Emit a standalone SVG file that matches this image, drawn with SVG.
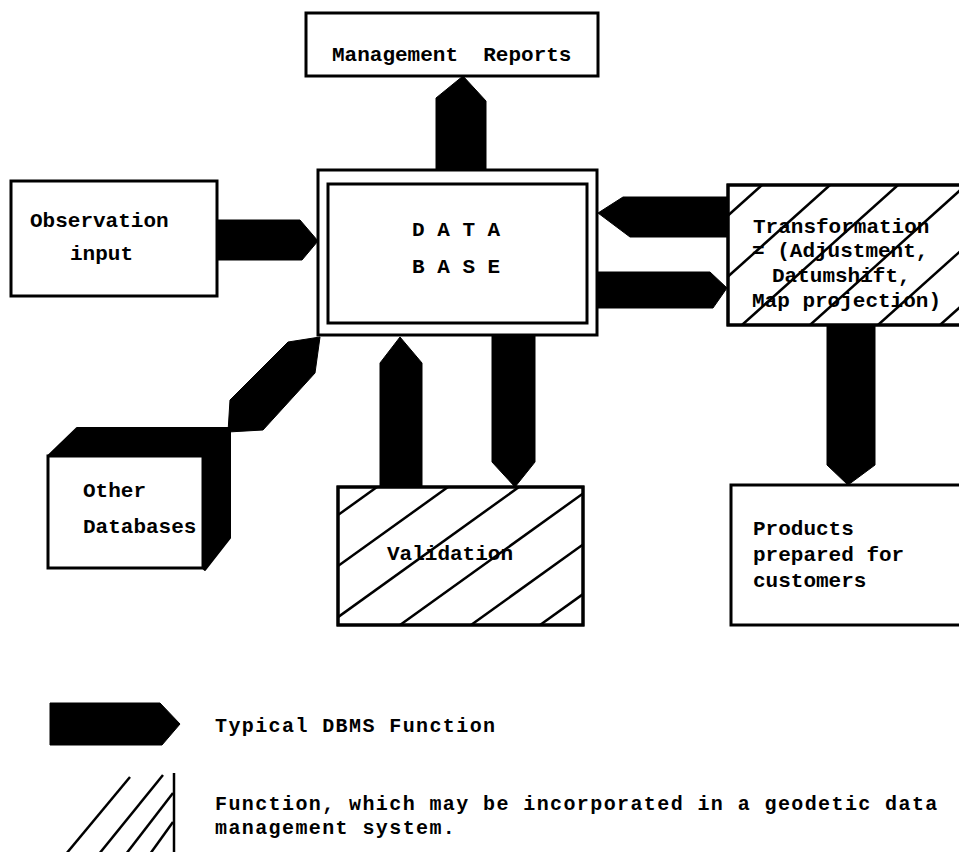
<svg xmlns="http://www.w3.org/2000/svg" width="959" height="852" viewBox="0 0 959 852">
<style>
.box{fill:#fff;stroke:#000;stroke-width:3}
.arrow{fill:#000;stroke:#000;stroke-width:1;stroke-linejoin:round}
.hatch{stroke:#000;stroke-width:2.5;fill:none}
.t{font-family:"Liberation Mono","Courier New",monospace;font-size:21px;font-weight:bold;fill:#000}
.lg{font-size:20px;letter-spacing:1.4px}
</style>
<defs>
<clipPath id="clipVal"><rect x="338" y="487" width="245" height="138"/></clipPath>
<clipPath id="clipTr"><rect x="728" y="185" width="240" height="140"/></clipPath>
</defs>
<rect width="959" height="852" fill="#fff"/>

<g id="connectors">
<polygon class="arrow" points="436,169 486,169 486,101 463,76 436,98"/>
<polygon class="arrow" points="217,220 300,220 318,241 302,260 217,260"/>
<polygon class="arrow" points="728,197 623,197 598,213 630,237 728,237"/>
<polygon class="arrow" points="597,272 710,272 727,288 713,308 597,308"/>
<polygon class="arrow" points="380,487 380,363 400,337 422,363 422,487"/>
<polygon class="arrow" points="492,335 535,335 535,462 515,487 492,462"/>
<polygon class="arrow" points="230,400 288,342 320,337 315,373 263,430 228,432"/>
<polygon class="arrow" points="827,325 875,325 875,465 848,485 827,465"/>
</g>

<g id="management-reports">
<rect class="box" x="306" y="13" width="292" height="63"/>
<text class="t" x="332" y="61" xml:space="preserve">Management  Reports</text>
</g>

<g id="database">
<rect class="box" x="318" y="170" width="279" height="165"/>
<rect class="box" x="328" y="184" width="259" height="139"/>
<text class="t" x="412" y="236">D A T A</text>
<text class="t" x="412" y="273">B A S E</text>
</g>

<g id="observation-input">
<rect class="box" x="11" y="181" width="206" height="115"/>
<text class="t" x="30" y="227">Observation</text>
<text class="t" x="70" y="260">input</text>
</g>

<g id="transformation">
<rect class="box" x="728" y="185" width="250" height="140"/>
<g clip-path="url(#clipTr)">
<line class="hatch" x1="762" y1="185" x2="606" y2="325"/>
<line class="hatch" x1="830" y1="185" x2="674" y2="325"/>
<line class="hatch" x1="898" y1="185" x2="742" y2="325"/>
<line class="hatch" x1="966" y1="185" x2="810" y2="325"/>
<line class="hatch" x1="1034" y1="185" x2="878" y2="325"/>
<line class="hatch" x1="1096" y1="185" x2="940" y2="325"/>
</g>
<rect x="728" y="185" width="250" height="140" fill="none" stroke="#000" stroke-width="3"/>
<text class="t" x="753" y="233">Transformation</text>
<text class="t" x="752" y="257">= (Adjustment,</text>
<text class="t" x="772" y="282">Datumshift,</text>
<text class="t" x="752" y="307">Map projection)</text>
</g>

<g id="validation">
<rect class="box" x="338" y="487" width="245" height="138"/>
<g clip-path="url(#clipVal)">
<line class="hatch" x1="185" y1="625" x2="377" y2="487"/>
<line class="hatch" x1="256" y1="625" x2="448" y2="487"/>
<line class="hatch" x1="327" y1="625" x2="519" y2="487"/>
<line class="hatch" x1="400" y1="625" x2="592" y2="487"/>
<line class="hatch" x1="471" y1="625" x2="663" y2="487"/>
<line class="hatch" x1="540" y1="625" x2="732" y2="487"/>
</g>
<rect x="338" y="487" width="245" height="138" fill="none" stroke="#000" stroke-width="3"/>
<text class="t" x="387" y="560">Validation</text>
</g>

<g id="other-databases">
<polygon fill="#000" stroke="#000" stroke-width="2" stroke-linejoin="round" points="48,456 77,428 230,428 203,456"/>
<polygon fill="#000" stroke="#000" stroke-width="2" stroke-linejoin="round" points="203,456 230,428 230,538 205,570 203,568"/>
<rect class="box" x="48" y="456" width="155" height="112"/>
<text class="t" x="83" y="497">Other</text>
<text class="t" x="83" y="533">Databases</text>
</g>

<g id="products">
<rect class="box" x="731" y="485" width="250" height="140"/>
<text class="t" x="753" y="535">Products</text>
<text class="t" x="753" y="561">prepared for</text>
<text class="t" x="753" y="587">customers</text>
</g>

<g id="legend">
<polygon class="arrow" points="50,703 160,703 180,724 162,745 50,745"/>
<text class="t lg" x="215" y="732">Typical DBMS Function</text>
<line class="hatch" x1="130" y1="777" x2="66" y2="854"/>
<line class="hatch" x1="163" y1="775" x2="99" y2="854"/>
<line class="hatch" x1="173" y1="793" x2="126" y2="854"/>
<line class="hatch" x1="173" y1="822" x2="150" y2="854"/>
<line class="hatch" x1="174" y1="773" x2="174" y2="854" stroke-width="3"/>
<text class="t lg" x="215" y="810">Function, which may be incorporated in a geodetic data</text>
<text class="t lg" x="215" y="834">management system.</text>
</g>
</svg>
